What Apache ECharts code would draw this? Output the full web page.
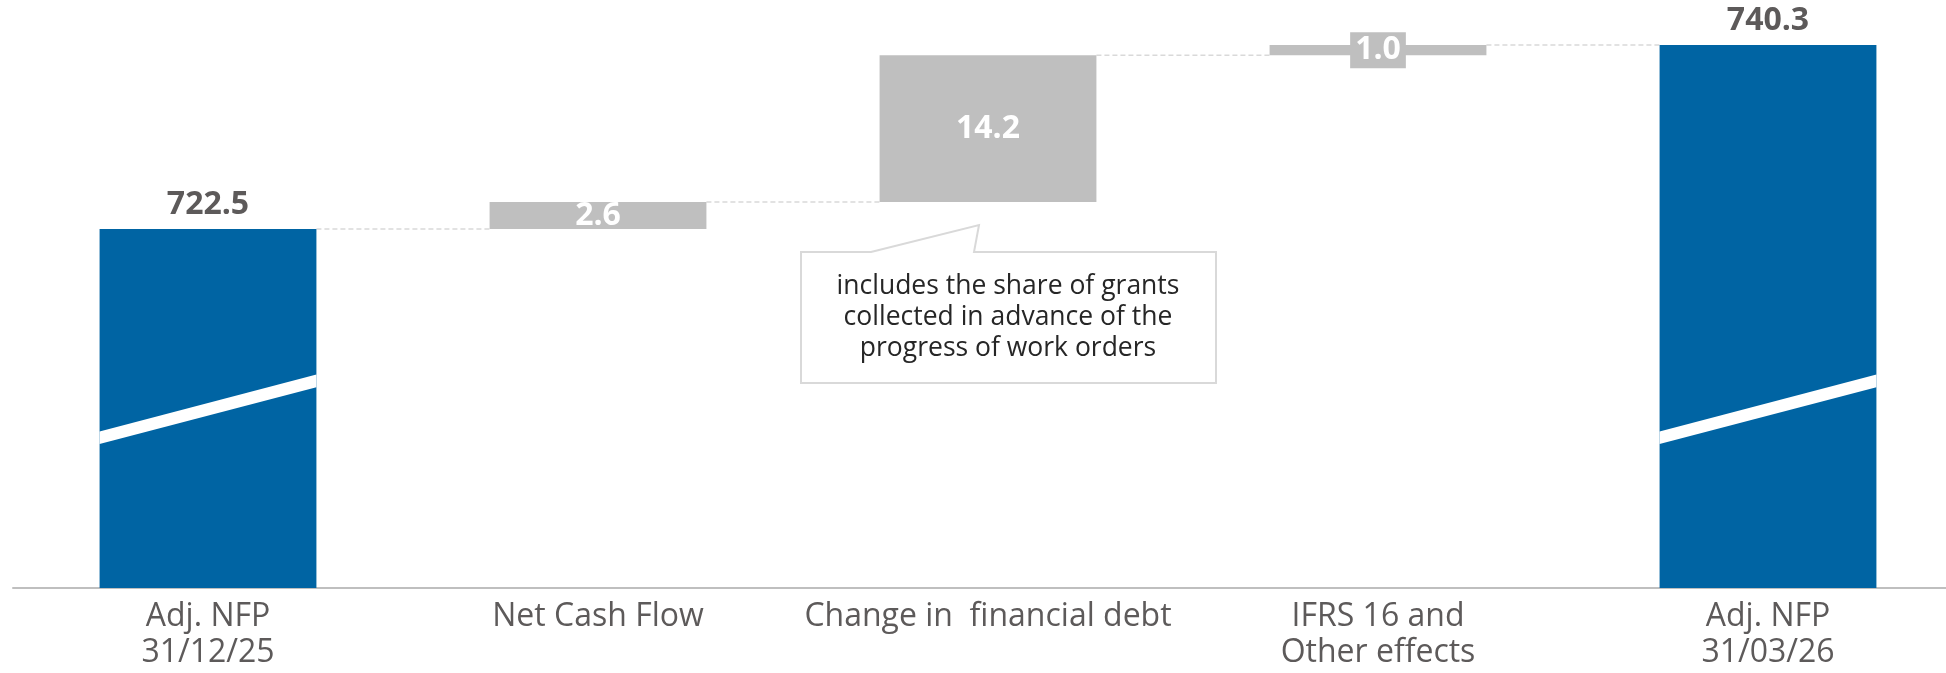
<!DOCTYPE html>
<html><head><meta charset="utf-8">
<script src="https://cdn.jsdelivr.net/npm/echarts@6/dist/echarts.min.js"></script>
<style>html,body{margin:0;padding:0;background:#fff}#c{width:1946px;height:673px}</style>
</head><body><div id="c"></div>
<script>
// ---- data ----
const categories = ['Adj. NFP\n31/12/25', 'Net Cash Flow', 'Change in  financial debt', 'IFRS 16 and\nOther effects', 'Adj. NFP\n31/03/26'];
const values = [722.5, 2.6, 14.2, 1.0, 740.3];
const isTotal = [true, false, false, false, true];
const noteLines = ['includes the share of grants', 'collected in advance of the', 'progress of work orders'];

// ---- styles / layout constants ----
const BLUE = '#0064a3', GRAY = '#bfbfbf', TXT = '#5d5a5a';
const BAR_FRAC = 0.556;
const Y_MIN = 687.77, Y_MAX = 744.65;
const STRIPE = { left: 701.7, right: 707.2, thick: 1.22 }; // axis-break decoration (axis units)

// derived waterfall geometry
const bases = [], ends = [];
let run = 0;
values.forEach((v, i) => {
  if (isTotal[i]) { bases.push(0); run = v; }
  else { bases.push(+run.toFixed(4)); run = run + v; }
  ends.push(+run.toFixed(4));
});
const connectorData = [];
for (let i = 0; i < values.length - 1; i++) connectorData.push([i, ends[i]]);
const stripeData = [];
isTotal.forEach((t, i) => { if (t) stripeData.push([i]); });

const visData = values.map((v, i) => {
  let label;
  if (isTotal[i]) {
    label = { show: true, position: 'top', distance: 8, color: TXT, fontSize: 32, fontWeight: 'bold' };
  } else {
    label = { show: true, position: 'inside', color: '#fff', fontSize: 32, fontWeight: 'bold' };
    if (i === 3) { label.backgroundColor = GRAY; label.padding = [2, 5]; }
  }
  return { value: v, itemStyle: { color: isTotal[i] ? BLUE : GRAY }, label };
});

const chart = echarts.init(document.getElementById('c'), null, { renderer: 'canvas' });
chart.setOption({
  animation: false,
  backgroundColor: '#fff',
  textStyle: { fontFamily: 'Open Sans' },
  grid: { left: 13, top: 0, width: 1950, bottom: 85, outerBoundsMode: 'none' },
  xAxis: {
    type: 'category', data: categories,
    axisLine: { show: true, lineStyle: { color: '#bfbfbf', width: 2 } },
    axisTick: { show: false },
    axisLabel: { color: TXT, fontSize: 32, lineHeight: 36, margin: 11, interval: 0, fontFamily: 'Open Sans' },
    splitLine: { show: false }
  },
  yAxis: { type: 'value', min: Y_MIN, max: Y_MAX, show: false, splitLine: { show: false } },
  series: [
    { type: 'bar', stack: 'w', barWidth: (BAR_FRAC * 100) + '%', itemStyle: { color: 'transparent' }, data: bases, silent: true },
    {
      type: 'bar', stack: 'w', barWidth: (BAR_FRAC * 100) + '%', data: visData,
      label: { formatter: p => p.value.toFixed(1), fontFamily: 'Open Sans' }
    },
    {
      type: 'custom', z: 1, data: connectorData, silent: true,
      renderItem(params, api) {
        const i = api.value(0), lvl = api.value(1);
        const bw = api.size([1, 0])[0] * BAR_FRAC;
        const p1 = api.coord([i, lvl]), p2 = api.coord([i + 1, lvl]);
        return { type: 'line', shape: { x1: p1[0] + bw / 2, y1: p1[1], x2: p2[0] - bw / 2, y2: p1[1] },
          style: { stroke: '#d9d9d9', lineWidth: 1.5, lineDash: [5, 3] } };
      }
    },
    {
      type: 'custom', z: 5, data: stripeData, silent: true,
      renderItem(params, api) {
        const i = api.value(0);
        const bw = api.size([1, 0])[0] * BAR_FRAC;
        const cx = api.coord([i, STRIPE.left])[0];
        const xl = cx - bw / 2, xr = cx + bw / 2;
        const yl0 = api.coord([i, STRIPE.left])[1], yl1 = api.coord([i, STRIPE.left + STRIPE.thick])[1];
        const yr0 = api.coord([i, STRIPE.right])[1], yr1 = api.coord([i, STRIPE.right + STRIPE.thick])[1];
        return { type: 'polygon', shape: { points: [[xl, yl1], [xr, yr1], [xr, yr0], [xl, yl0]] }, style: { fill: '#fff' } };
      }
    }
  ],
  graphic: [
    {
      type: 'polygon', z: 10,
      shape: { points: [[801, 252], [871, 252], [979, 225], [974, 252], [1216, 252], [1216, 383], [801, 383]] },
      style: { fill: '#fff', stroke: '#d9d9d9', lineWidth: 2 }
    },
    {
      type: 'text', z: 11, x: 1008, y: 317.5,
      style: { text: noteLines.join('\n'), fill: '#262626', font: '26.5px "Open Sans"', lineHeight: 31,
        align: 'center', verticalAlign: 'middle' }
    }
  ]
});
</script></body></html>
